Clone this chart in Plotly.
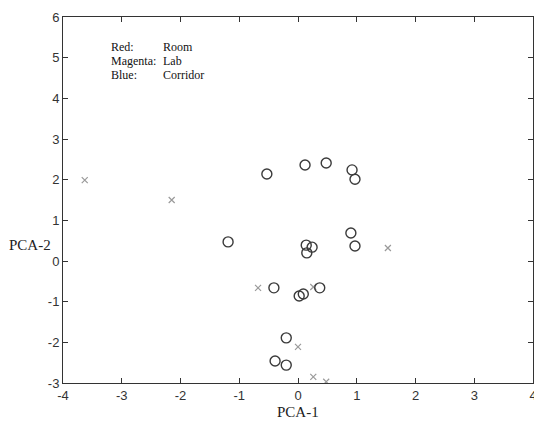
import plotly.graph_objects as go

# Circle-marked samples
circle_x = [-0.53, 0.12, 0.48, 0.92, 0.97, -1.19, 0.90, 0.97, 0.14, 0.24, 0.15,
            -0.41, 0.37, 0.09, 0.02, -0.20, -0.39, -0.20]
circle_y = [2.14, 2.36, 2.41, 2.24, 2.01, 0.47, 0.69, 0.37, 0.39, 0.34, 0.20,
            -0.66, -0.66, -0.81, -0.86, -1.89, -2.46, -2.56]

# Cross-marked samples
cross_x = [-3.63, -2.15, 1.53, -0.68, 0.26, 0.00, 0.26, 0.48]
cross_y = [1.99, 1.50, 0.32, -0.66, -0.64, -2.11, -2.85, -2.97]

x_ticks = [-4, -3, -2, -1, 0, 1, 2, 3, 4]
y_ticks = [-3, -2, -1, 0, 1, 2, 3, 4, 5, 6]

legend_keys = ["Red:", "Magenta:", "Blue:"]
legend_vals = ["Room", "Lab", "Corridor"]

serif = "Liberation Serif, Times New Roman, serif"
sans = "Liberation Sans, Arial, sans-serif"

fig = go.Figure()
fig.add_trace(go.Scatter(
    x=cross_x, y=cross_y, mode="markers",
    marker=dict(symbol="x-thin-open", size=6, color="#9a9a9a",
                line=dict(width=1.2, color="#9a9a9a")),
    showlegend=False, hoverinfo="skip"))
fig.add_trace(go.Scatter(
    x=circle_x, y=circle_y, mode="markers",
    marker=dict(symbol="circle-open", size=10, color="#3a3a3a",
                line=dict(width=1.4, color="#3a3a3a")),
    showlegend=False, hoverinfo="skip"))

axis_common = dict(
    showgrid=False, zeroline=False, showline=True, mirror="ticks",
    linecolor="#333333", linewidth=1, ticks="inside", ticklen=5,
    tickcolor="#333333", tickfont=dict(family=sans, size=13, color="#333333"),
    automargin=False, ticklabeloverflow="allow",
)

fig.update_xaxes(range=[-4, 4], tickvals=x_ticks,
                 ticktext=[str(v) for v in x_ticks], **axis_common)
fig.update_yaxes(range=[-3, 6], tickvals=y_ticks,
                 ticktext=[str(v) for v in y_ticks], **axis_common)

# Text legend
for i, (k, v) in enumerate(zip(legend_keys, legend_vals)):
    yv = 5.27 - i * 0.345
    fig.add_annotation(x=-3.22, y=yv, xref="x", yref="y", text=k,
                       showarrow=False, xanchor="left", yanchor="middle",
                       font=dict(family=serif, size=12, color="#111111"))
    fig.add_annotation(x=-2.33, y=yv, xref="x", yref="y", text=v,
                       showarrow=False, xanchor="left", yanchor="middle",
                       font=dict(family=serif, size=12, color="#111111"))

# Axis titles
fig.add_annotation(x=0.5, y=-0.079, xref="paper", yref="paper", text="PCA-1",
                   showarrow=False, xanchor="center", yanchor="middle",
                   font=dict(family=serif, size=15, color="#222222"))
fig.add_annotation(x=-0.119, y=0.377, xref="paper", yref="paper", text="PCA-2",
                   showarrow=False, xanchor="left", yanchor="middle",
                   font=dict(family=serif, size=15, color="#222222"))

fig.update_layout(
    width=534, height=425,
    margin=dict(l=63, r=1, t=17, b=42),
    plot_bgcolor="white", paper_bgcolor="white",
)

fig.write_html(
    "out.html",
    config={"displayModeBar": False},
    post_script="document.body.style.margin='0';document.body.style.overflow='hidden';",
)
